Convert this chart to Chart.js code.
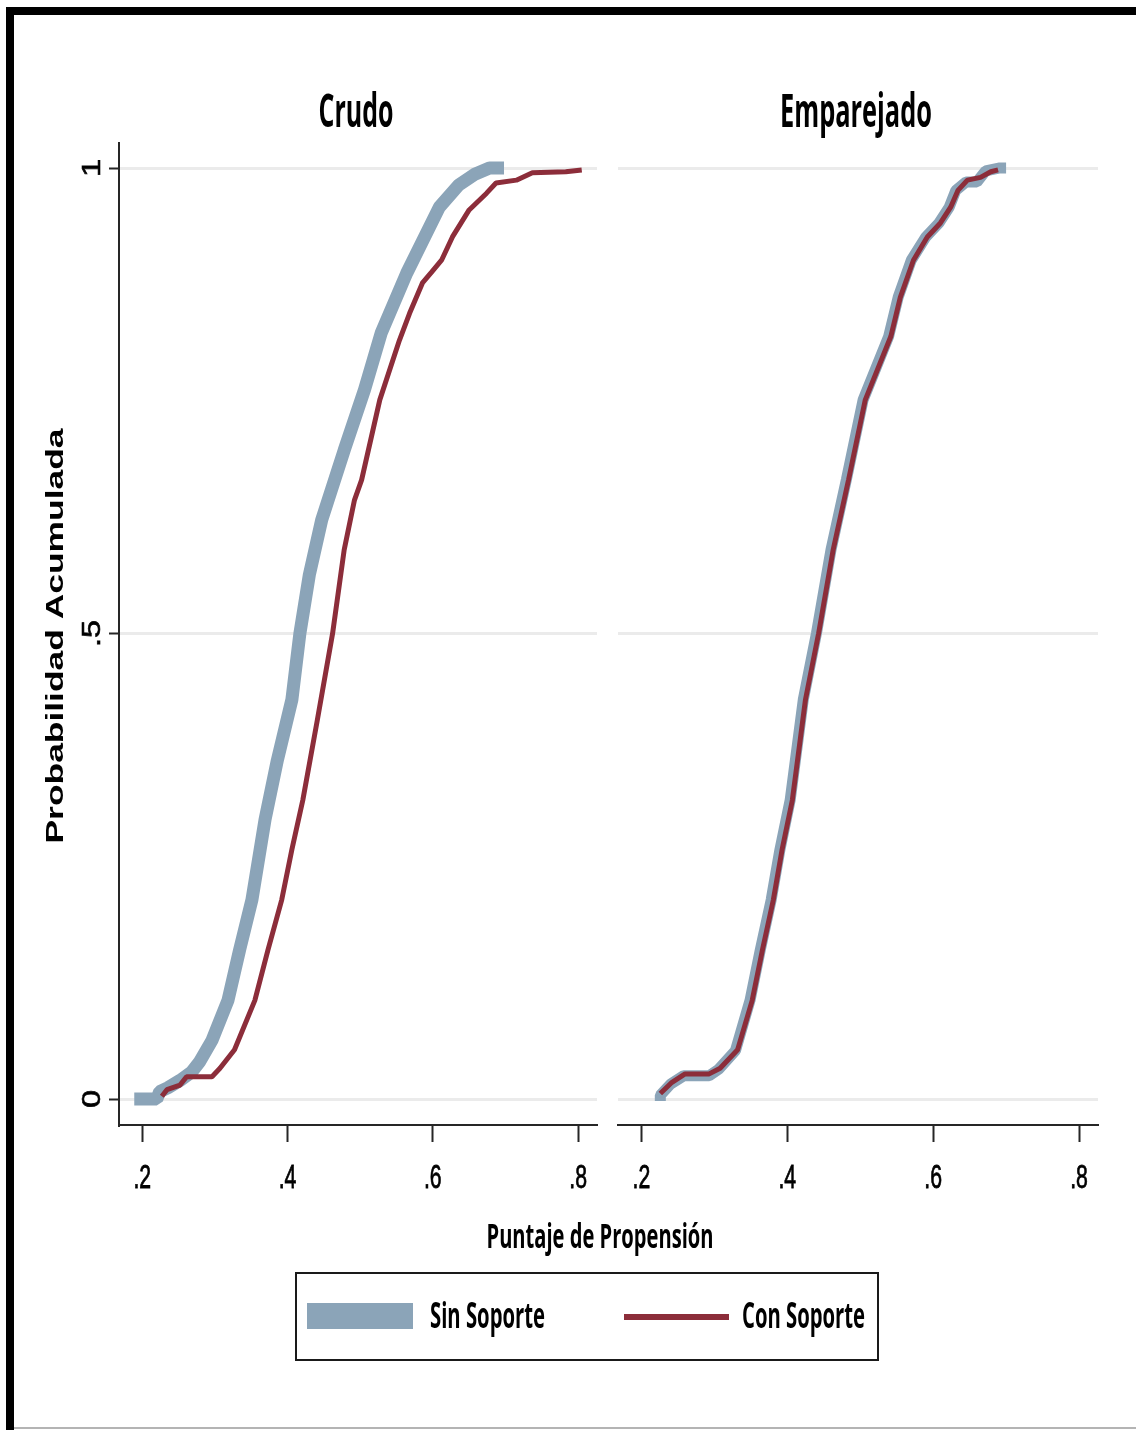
<!DOCTYPE html>
<html>
<head>
<meta charset="utf-8">
<script src="https://cdn.jsdelivr.net/npm/chart.js@4"></script>
<style>
  html, body { margin: 0; padding: 0; background: #fff; }
  #page { position: relative; width: 1136px; height: 1430px; overflow: hidden; background: #fff; }
  #page canvas { position: absolute; left: 0; top: 0; }
  .edge { position: absolute; background: #000; }
</style>
</head>
<body>
<div id="page">
  <canvas id="crudo" width="1136" height="1430"></canvas>
  <canvas id="emparejado" width="1136" height="1430"></canvas>
  <div class="edge" style="left:6px;top:7px;width:1130px;height:8px"></div>
  <div class="edge" style="left:6px;top:7px;width:8px;height:1423px"></div>
  <div class="edge" style="left:14px;top:1427px;width:1122px;height:2px;background:#b4b4b4"></div>
</div>
<script>
// ---- data ----
const panelTitles = ["Crudo", "Emparejado"];
const seriesNames = ["Sin Soporte", "Con Soporte"];
const xTicks = [0.2, 0.4, 0.6, 0.8];
const xTickLabels = [".2", ".4", ".6", ".8"];
const yTicks = [0, 0.5, 1];
const yTickLabels = ["0", ".5", "1"];

// Crudo panel
const crudoSinX = [0.189, 0.220, 0.224, 0.235, 0.252, 0.268, 0.279, 0.296, 0.318, 0.334, 0.351, 0.369, 0.386,
  0.406, 0.417, 0.430, 0.447, 0.478, 0.506, 0.529, 0.564, 0.609, 0.636, 0.657, 0.678, 0.698];
const crudoSinY = [0, 0, 0.008, 0.012, 0.020, 0.029, 0.040, 0.063, 0.106, 0.160, 0.214, 0.300, 0.364,
  0.429, 0.500, 0.563, 0.622, 0.697, 0.762, 0.823, 0.887, 0.958, 0.982, 0.993, 1.0, 1.0];
const crudoConX = [0.227, 0.234, 0.252, 0.261, 0.296, 0.307, 0.327, 0.355, 0.373, 0.392, 0.406, 0.421, 0.441,
  0.462, 0.478, 0.492, 0.502, 0.527, 0.554, 0.568, 0.586, 0.598, 0.612, 0.627, 0.650, 0.674, 0.687, 0.715,
  0.737, 0.783, 0.805];
const crudoConY = [0.003, 0.010, 0.015, 0.024, 0.024, 0.033, 0.053, 0.106, 0.160, 0.214, 0.268, 0.321, 0.407,
  0.500, 0.590, 0.643, 0.665, 0.751, 0.815, 0.844, 0.877, 0.888, 0.901, 0.926, 0.955, 0.973, 0.984, 0.987,
  0.995, 0.996, 0.998];

// Emparejado panel
const empSinX = [0.226, 0.226, 0.240, 0.258, 0.293, 0.306, 0.329, 0.349, 0.363, 0.378, 0.390, 0.404, 0.422,
  0.440, 0.460, 0.481, 0.504, 0.539, 0.552, 0.570, 0.590, 0.608, 0.622, 0.631, 0.645, 0.660, 0.672, 0.690, 0.700];
const empSinY = [-0.002, 0.004, 0.016, 0.025, 0.025, 0.032, 0.052, 0.106, 0.160, 0.214, 0.268, 0.321, 0.429,
  0.500, 0.590, 0.665, 0.751, 0.819, 0.861, 0.901, 0.926, 0.941, 0.958, 0.976, 0.985, 0.985, 0.997, 1.0, 1.0];
const empConX = [0.226, 0.242, 0.260, 0.293, 0.308, 0.332, 0.352, 0.366, 0.381, 0.393, 0.407, 0.425, 0.443,
  0.463, 0.484, 0.507, 0.542, 0.555, 0.573, 0.592, 0.610, 0.624, 0.634, 0.647, 0.665, 0.679, 0.689];
const empConY = [0.006, 0.018, 0.027, 0.027, 0.033, 0.053, 0.106, 0.160, 0.214, 0.268, 0.321, 0.429, 0.500,
  0.590, 0.665, 0.751, 0.819, 0.861, 0.901, 0.926, 0.941, 0.958, 0.976, 0.987, 0.990, 0.996, 0.998];

const GRAY = "#8ba4b8";
const MAROON = "#8c2d3a";
const INK = "#262626";
const COND = "'Open Sans', 'Liberation Sans', sans-serif";
const ARIAL = "'Liberation Sans', Arial, sans-serif";

function pts(xs, ys) {
  return xs.map((x, i) => ({ x: x, y: ys[i] }));
}

// text drawn with an explicit stretch, since the original picture is squeezed
function drawText(ctx, str, x, y, o) {
  ctx.save();
  ctx.font = (o.weight || "normal") + " " + o.size + "px " + o.family;
  const w = ctx.measureText(str).width;
  const sx = o.width ? o.width / w : (o.sx || 1);
  ctx.translate(x, y);
  if (o.rotate) ctx.rotate(o.rotate);
  ctx.scale(sx, o.sy || 1);
  ctx.textAlign = o.align || "center";
  ctx.textBaseline = "alphabetic";
  ctx.fillStyle = o.color || "#000";
  ctx.fillText(str, 0, 0);
  if (o.stroke) {
    ctx.strokeStyle = o.color || "#000";
    ctx.lineWidth = o.stroke;
    ctx.strokeText(str, 0, 0);
  }
  ctx.restore();
}

const textPlugin = {
  id: "stataText",
  afterDraw(chart, args, opts) {
    const ctx = chart.ctx;
    const xs = chart.scales.x;
    const ys = chart.scales.y;
    const mid = (chart.chartArea.left + chart.chartArea.right) / 2;

    drawText(ctx, opts.title, mid - 2, 127, { size: 35, weight: "bold", family: COND, sy: 1.35, width: opts.titleWidth });

    xTicks.forEach((v, i) => {
      drawText(ctx, xTickLabels[i], xs.getPixelForValue(v), 1188, { size: 25, family: ARIAL, sy: 1.32, sx: 0.85, stroke: 0.6 });
    });

    if (!opts.main) return;

    yTicks.forEach((v, i) => {
      drawText(ctx, yTickLabels[i], 100, ys.getPixelForValue(v), { size: 25, family: ARIAL, sx: 1.3, rotate: -Math.PI / 2, stroke: 0.6 });
    });

    drawText(ctx, "Probabilidad Acumulada", 63, 636, {
      size: 23, weight: "bold", family: ARIAL, rotate: -Math.PI / 2, width: 415
    });

    drawText(ctx, "Puntaje de Propensión", 600, 1248, { size: 25, weight: "bold", family: COND, sy: 1.35, width: 227 });

    // legend
    ctx.save();
    ctx.strokeStyle = "#1a1a1a";
    ctx.lineWidth = 2;
    ctx.strokeRect(296, 1273, 582, 87);
    ctx.fillStyle = chart.data.datasets[1].borderColor;
    ctx.fillRect(307, 1303, 106, 26);
    ctx.fillStyle = chart.data.datasets[0].borderColor;
    ctx.fillRect(624, 1314, 105, 6);
    ctx.restore();
    drawText(ctx, seriesNames[0], 430, 1328, { size: 26, weight: "bold", family: COND, sy: 1.35, width: 115, align: "left" });
    drawText(ctx, seriesNames[1], 742, 1328, { size: 26, weight: "bold", family: COND, sy: 1.35, width: 123, align: "left" });
  }
};

function makePanel(canvasId, sinData, conData, opts) {
  const ctx = document.getElementById(canvasId).getContext("2d");
  return new Chart(ctx, {
    type: "line",
    data: {
      datasets: [
        {
          label: seriesNames[1],
          data: conData,
          borderColor: MAROON,
          borderWidth: 5,
          order: 1
        },
        {
          label: seriesNames[0],
          data: sinData,
          borderColor: GRAY,
          borderWidth: opts.sinWidth,
          order: 2
        }
      ]
    },
    options: {
      responsive: false,
      animation: false,
      devicePixelRatio: 1,
      parsing: false,
      layout: { padding: opts.padding },
      elements: {
        point: { radius: 0 },
        line: { tension: 0, borderJoinStyle: "bevel", borderCapStyle: "butt", fill: false }
      },
      plugins: {
        legend: { display: false },
        tooltip: { enabled: false },
        stataText: { title: opts.title, titleWidth: opts.titleWidth, main: opts.main }
      },
      scales: {
        x: {
          type: "linear",
          min: 0.168,
          max: 0.826,
          afterBuildTicks: (s) => { s.ticks = xTicks.map((v) => ({ value: v })); },
          afterFit: (s) => { s.height = 17; },
          ticks: { display: false },
          grid: { drawOnChartArea: false, drawTicks: true, tickLength: 17, tickColor: INK, tickWidth: 2 },
          border: { display: true, color: INK, width: 2 }
        },
        y: {
          type: "linear",
          min: -0.0279,
          max: 1.0269,
          afterBuildTicks: (s) => { s.ticks = yTicks.map((v) => ({ value: v })); },
          afterFit: (s) => { s.width = opts.main ? 10 : 0; },
          ticks: { display: false },
          grid: {
            color: "#ebebeb",
            lineWidth: 3,
            drawTicks: opts.main,
            tickLength: 10,
            tickColor: INK,
            tickWidth: 2
          },
          border: { display: opts.main, color: INK, width: 2 }
        }
      }
    },
    plugins: [textPlugin]
  });
}

makePanel("crudo", pts(crudoSinX, crudoSinY), pts(crudoConX, crudoConY), {
  title: panelTitles[0],
  titleWidth: 75,
  main: true,
  sinWidth: 13,
  padding: { left: 109, right: 539, top: 143, bottom: 288 }
});

makePanel("emparejado", pts(empSinX, empSinY), pts(empConX, empConY), {
  title: panelTitles[1],
  titleWidth: 152,
  main: false,
  sinWidth: 11,
  padding: { left: 618, right: 38, top: 143, bottom: 288 }
});
</script>
</body>
</html>
